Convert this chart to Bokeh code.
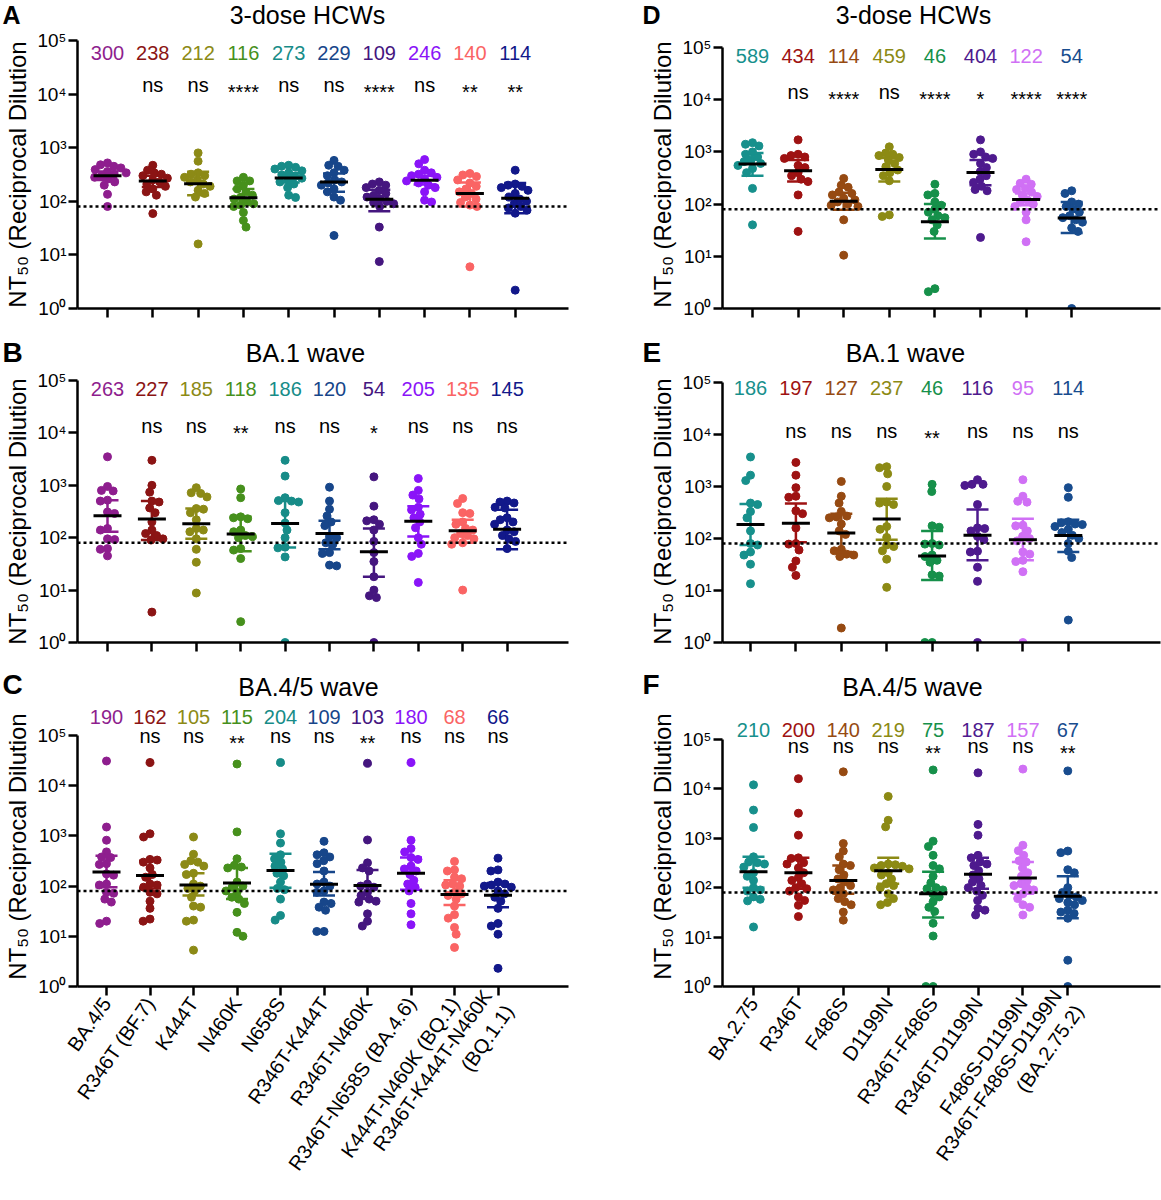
import math
from bokeh.plotting import figure
from bokeh.models import ColumnDataSource, FixedTicker, Span, LabelSet, Label, Range1d
from bokeh.layouts import column, row
from bokeh.embed import file_html
from bokeh.resources import INLINE
from bokeh.core.properties import value

FONT = "Liberation Sans"

# ---------------- data ----------------
variants_left = ["BA.4/5", "R346T (BF.7)", "K444T", "N460K", "N658S", "R346T-K444T",
                 "R346T-N460K", "R346T-N658S (BA.4.6)", "K444T-N460K (BQ.1)",
                 "R346T-K444T-N460K\n(BQ.1.1)"]
variants_right = ["BA.2.75", "R346T", "F486S", "D1199N", "R346T-F486S", "R346T-D1199N",
                  "F486S-D1199N", "R346T-F486S-D1199N\n(BA.2.75.2)"]
colors_left = ["#8E1E8E", "#8B1414", "#8C8A16", "#46901C", "#178C88", "#17468A",
               "#45167F", "#8A14F8", "#FA6464", "#12188A"]
colors_right = ["#17908C", "#9E1212", "#964A12", "#8C8A14", "#16904A", "#4E1A8E",
                "#D070F5", "#184C8E"]
y_tick_labels = {1: "10⁰", 10: "10¹", 100: "10²", 1000: "10³", 10000: "10⁴", 100000: "10⁵"}
limit_of_detection = 80

titers_A = [
    [520, 480, 450, 420, 390, 360, 340, 320, 300, 280, 260, 230, 200, 135, 80],
    [470, 380, 340, 320, 300, 270, 250, 230, 210, 190, 170, 150, 130, 59],
    [800, 560, 340, 320, 300, 280, 250, 230, 210, 190, 160, 140, 120, 16],
    [280, 240, 240, 200, 170, 150, 130, 120, 110, 100, 90, 85, 80, 62, 44, 33],
    [470, 450, 430, 400, 370, 340, 310, 290, 270, 250, 230, 210, 180, 130, 118],
    [580, 470, 450, 380, 340, 300, 250, 230, 220, 200, 170, 150, 120, 105, 23],
    [230, 210, 200, 180, 160, 140, 130, 120, 110, 100, 95, 90, 80, 33, 7.5],
    [600, 500, 380, 340, 320, 300, 280, 260, 240, 220, 200, 180, 150, 105, 97],
    [330, 310, 290, 250, 220, 190, 170, 150, 140, 120, 110, 95, 85, 80, 6],
    [380, 210, 200, 190, 180, 160, 140, 120, 110, 100, 90, 80, 75, 68, 60, 2.2],
]
gmt_A = [300, 238, 212, 116, 273, 229, 109, 246, 140, 114]
ci_lo_A = [250, 185, 130, 85, 225, 150, 65, 205, 80, 60]
ci_hi_A = [360, 300, 355, 170, 335, 330, 165, 300, 225, 220]
sig_A = ["", "ns", "ns", "****", "ns", "ns", "****", "ns", "**", "**"]

titers_B = [
    [3500, 950, 800, 780, 520, 500, 310, 290, 150, 140, 95, 92, 62, 60, 45],
    [3000, 1000, 740, 500, 480, 370, 300, 200, 140, 120, 110, 95, 90, 3.8],
    [900, 720, 700, 600, 360, 350, 300, 220, 150, 140, 130, 95, 60, 34, 8.8],
    [850, 580, 250, 240, 230, 140, 130, 110, 105, 100, 62, 58, 40, 2.5],
    [3000, 1500, 580, 510, 500, 480, 300, 190, 140, 100, 66, 64, 43, 1],
    [920, 500, 350, 260, 200, 170, 105, 100, 80, 75, 52, 50, 30, 29],
    [1450, 400, 220, 210, 180, 140, 85, 52, 35, 18, 10, 7.8, 7.2, 1],
    [1350, 800, 650, 550, 380, 340, 280, 240, 200, 155, 100, 75, 50, 44, 14],
    [560, 450, 300, 290, 200, 180, 150, 140, 120, 110, 100, 95, 80, 75, 10],
    [500, 480, 460, 380, 370, 240, 220, 200, 180, 140, 130, 110, 95, 85, 62],
]
gmt_B = [263, 227, 185, 118, 186, 120, 54, 205, 135, 145]
ci_lo_B = [130, 90, 95, 55, 65, 60, 18, 105, 80, 60]
ci_hi_B = [520, 500, 360, 250, 500, 210, 150, 400, 220, 340]
sig_B = ["", "ns", "ns", "**", "ns", "ns", "*", "ns", "ns", "ns"]

titers_C = [
    [31000, 1500, 820, 480, 380, 370, 280, 270, 175, 165, 110, 105, 75, 72, 55, 48, 20, 18],
    [29000, 1100, 950, 340, 330, 300, 230, 170, 150, 110, 105, 95, 75, 70, 50, 36, 22, 20],
    [950, 430, 320, 300, 270, 250, 180, 170, 110, 100, 90, 80, 60, 40, 38, 21, 20, 5.3],
    [27000, 1200, 350, 260, 240, 230, 120, 100, 95, 80, 75, 60, 55, 45, 30, 12, 10],
    [29000, 1100, 720, 420, 350, 300, 250, 220, 180, 160, 120, 90, 85, 55, 26, 21],
    [780, 460, 420, 380, 320, 280, 200, 120, 110, 100, 80, 75, 48, 45, 38, 33, 12.5, 12.5],
    [28000, 830, 290, 230, 200, 110, 100, 95, 75, 65, 55, 50, 48, 28, 20, 16],
    [29000, 820, 560, 480, 370, 340, 250, 220, 200, 170, 130, 110, 95, 80, 45, 28, 17],
    [310, 210, 200, 150, 140, 110, 105, 100, 75, 70, 65, 55, 40, 27, 23, 15, 11, 6],
    [360, 210, 200, 120, 110, 105, 100, 95, 80, 70, 60, 50, 36, 18, 16, 11, 2.3],
]
gmt_C = [190, 162, 105, 115, 204, 109, 103, 180, 68, 66]
ci_lo_C = [95, 90, 65, 55, 93, 65, 55, 85, 42, 38]
ci_hi_C = [400, 320, 180, 230, 440, 190, 210, 370, 130, 115]
sig_C = ["", "ns", "ns", "**", "ns", "ns", "**", "ns", "ns", "ns"]

titers_D = [
    [1500, 1400, 1300, 1000, 900, 800, 700, 650, 600, 550, 480, 400, 200, 40],
    [1700, 900, 850, 800, 750, 550, 500, 400, 350, 300, 270, 150, 30],
    [310, 230, 210, 170, 160, 150, 130, 120, 110, 100, 95, 90, 50, 10.5],
    [1250, 950, 900, 850, 780, 700, 600, 520, 450, 400, 350, 280, 62, 58],
    [240, 160, 150, 110, 95, 80, 70, 60, 55, 50, 40, 30, 2.4, 2.1],
    [1700, 1000, 900, 800, 750, 600, 500, 420, 350, 300, 260, 220, 190, 180, 23],
    [300, 250, 240, 200, 190, 170, 150, 140, 120, 110, 100, 90, 70, 50, 19],
    [180, 160, 110, 100, 90, 80, 70, 60, 55, 50, 45, 35, 30, 1],
]
gmt_D = [589, 434, 114, 459, 46, 404, 122, 54]
ci_lo_D = [350, 270, 78, 270, 22, 230, 95, 28]
ci_hi_D = [950, 700, 165, 760, 100, 700, 160, 110]
sig_D = ["", "ns", "****", "ns", "****", "*", "****", "****"]

titers_E = [
    [3700, 1650, 1300, 480, 450, 330, 250, 140, 80, 75, 55, 48, 32, 13.5],
    [2900, 1650, 950, 650, 620, 340, 300, 160, 80, 78, 60, 37, 28, 19.5],
    [1250, 650, 480, 330, 270, 260, 250, 190, 140, 120, 62, 58, 50, 48, 45, 1.9],
    [2400, 2300, 1750, 1000, 500, 480, 450, 170, 150, 105, 75, 70, 58, 40, 11.5],
    [1100, 800, 175, 165, 80, 78, 75, 48, 45, 38, 35, 20, 19, 1, 1],
    [1350, 1100, 1100, 1050, 450, 160, 155, 140, 110, 95, 57, 55, 28, 15, 1],
    [1350, 650, 520, 500, 180, 175, 140, 110, 100, 90, 55, 50, 38, 36, 23, 1],
    [950, 620, 210, 200, 190, 185, 170, 150, 130, 115, 100, 80, 57, 43, 2.7],
]
gmt_E = [186, 197, 127, 237, 46, 116, 95, 114]
ci_lo_E = [75, 85, 55, 95, 16, 38, 38, 55]
ci_hi_E = [460, 470, 300, 580, 140, 360, 240, 230]
sig_E = ["", "ns", "ns", "ns", "**", "ns", "ns", "ns"]

titers_F = [
    [12000, 3700, 1650, 420, 330, 320, 300, 260, 200, 170, 140, 100, 90, 85, 65, 58, 54, 16],
    [16000, 3200, 1150, 400, 390, 320, 300, 250, 200, 160, 140, 120, 100, 95, 85, 65, 55, 44, 26],
    [22000, 780, 550, 420, 300, 280, 230, 180, 150, 130, 110, 100, 90, 75, 60, 52, 45, 32, 22],
    [7000, 2300, 1700, 300, 290, 280, 270, 250, 240, 200, 180, 150, 120, 110, 100, 75, 60, 50, 45],
    [24000, 870, 680, 450, 280, 240, 170, 125, 100, 95, 90, 75, 65, 52, 40, 33, 19, 10.5, 1, 1],
    [21000, 1900, 1150, 450, 400, 330, 300, 280, 220, 180, 150, 130, 110, 100, 85, 70, 55, 38, 35, 28],
    [25000, 720, 560, 450, 350, 330, 250, 200, 170, 140, 120, 110, 100, 90, 75, 60, 45, 40, 28],
    [23000, 550, 510, 230, 200, 100, 80, 70, 65, 60, 55, 50, 45, 35, 32, 30, 24, 3.4, 1],
]
gmt_F = [210, 200, 140, 219, 75, 187, 157, 67]
ci_lo_F = [100, 95, 75, 120, 25, 95, 75, 24]
ci_hi_F = [420, 400, 280, 400, 210, 400, 330, 170]
sig_F = ["", "ns", "ns", "ns", "**", "ns", "ns", "**"]

panel_letters = [["A", "D"], ["B", "E"], ["C", "F"]]
panel_titles = [["3-dose HCWs", "3-dose HCWs"], ["BA.1 wave", "BA.1 wave"], ["BA.4/5 wave", "BA.4/5 wave"]]


# ---------------- helpers ----------------
def beeswarm(vals, ppd, d):
    ys = [math.log10(v) * ppd for v in vals]
    order = sorted(range(len(vals)), key=lambda i: -ys[i])
    placed = []
    offs = [0.0] * len(vals)
    side = -1
    for i in order:
        y = ys[i]
        iv = []
        for (px, py) in placed:
            ddy = abs(py - y)
            if ddy < d:
                w = math.sqrt(d * d - ddy * ddy)
                iv.append((px - w, px + w))
        cands = [0.0] + [a for a, b in iv] + [b for a, b in iv]
        cands.sort(key=lambda c: (round(abs(c), 2), 0 if c * side >= 0 else 1))
        for c in cands:
            if all(not (a + 1e-6 < c < b - 1e-6) for a, b in iv):
                offs[i] = c
                break
        if offs[i] != 0:
            side = -side
        placed.append((offs[i], y))
    return offs


def make_panel(cats, colors, titers, gmt, lo, hi, sig, g, show_labels):
    n = len(cats)
    sp = g["spacing"]
    fl = g["col"] + g["mbl"]
    fw = g["w"] - g["mbl"] - g["mbr"]
    ft = g["row"] + g["mbt"]
    fb = g["row"] + g["h"] - g["mbb"]
    ppd = (fb - g["axis_top"]) / 5.0            # pixels per decade
    top_exp = 5 + (g["axis_top"] - ft) / ppd
    x0 = -(g["first"] - fl) / sp
    x1 = x0 + fw / sp

    def dy(py):
        return 10 ** (top_exp - (py - ft) / ppd)

    p = figure(width=g["w"], height=g["h"],
               x_range=Range1d(x0, x1), y_range=Range1d(1, 10 ** top_exp),
               y_axis_type="log", output_backend="svg", toolbar_location=None,
               tools="", title=None,
               min_border_left=g["mbl"], min_border_right=g["mbr"],
               min_border_top=g["mbt"], min_border_bottom=g["mbb"])
    p.outline_line_color = None
    p.xgrid.visible = False
    p.ygrid.visible = False
    p.background_fill_color = "white"
    p.border_fill_color = "white"

    idx = list(range(n))
    xs, ys, cs = [], [], []
    for i, vals in enumerate(titers):
        offs = beeswarm(vals, ppd, 7.2)
        for v, o in zip(vals, offs):
            xs.append(i + o / sp)
            ys.append(v)
            cs.append(colors[i])
    p.scatter(x="x", y="y", fill_color="c", line_color="c", size=8,
              source=ColumnDataSource(dict(x=xs, y=ys, c=cs)))

    p.add_layout(Span(location=limit_of_detection, dimension="width", line_color="black",
                      line_width=2.5, line_dash="3 3"))

    cap = 11.0 / sp
    half = 14.0 / sp
    p.segment(x0=idx, x1=idx, y0=lo, y1=hi, line_color=colors, line_width=2.5)
    p.segment(x0=[i - cap for i in idx], x1=[i + cap for i in idx], y0=lo, y1=lo,
              line_color=colors, line_width=2.5)
    p.segment(x0=[i - cap for i in idx], x1=[i + cap for i in idx], y0=hi, y1=hi,
              line_color=colors, line_width=2.5)
    p.segment(x0=[i - half for i in idx], x1=[i + half for i in idx], y0=gmt, y1=gmt,
              line_color="black", line_width=3)

    nsrc = ColumnDataSource(dict(x=idx, y=[dy(g["num_y"])] * n,
                                 t=[str(v) for v in gmt], c=colors))
    p.add_layout(LabelSet(x="x", y="y", text="t", text_color="c", source=nsrc,
                          text_align="center", text_baseline="middle",
                          text_font=value(FONT), text_font_size="20px"))
    sx, sy, st = [], [], []
    for i, s in enumerate(sig):
        if not s:
            continue
        sx.append(i)
        st.append(s)
        sy.append(dy(g["sig_y"] + (5 if s.startswith("*") else -2)))
    p.add_layout(LabelSet(x="x", y="y", text="t", source=ColumnDataSource(dict(x=sx, y=sy, t=st)),
                          text_align="center", text_baseline="middle", text_color="black",
                          text_font=value(FONT), text_font_size="20px"))

    for ax in (p.xaxis[0], p.yaxis[0]):
        ax.axis_line_width = 2.5
        ax.axis_line_color = "black"
        ax.major_tick_line_width = 2.5
        ax.major_tick_line_color = "black"
        ax.major_tick_out = 9
        ax.major_tick_in = 0
        ax.minor_tick_line_color = None
        ax.major_label_text_font = FONT
        ax.major_label_text_color = "black"
    p.yaxis.bounds = (1, 100000)
    p.yaxis.ticker = FixedTicker(ticks=[1, 10, 100, 1000, 10000, 100000])
    p.yaxis.major_label_overrides = y_tick_labels
    p.yaxis.major_label_text_font_size = "19px"
    p.yaxis.major_label_standoff = 2
    p.yaxis.axis_label = "NT₅₀ (Reciprocal Dilution"
    p.yaxis.axis_label_text_font = FONT
    p.yaxis.axis_label_text_font_size = "24px"
    p.yaxis.axis_label_text_font_style = "normal"
    p.yaxis.axis_label_text_color = "black"
    p.yaxis.axis_label_standoff = 3
    p.xaxis.ticker = FixedTicker(ticks=idx)
    if show_labels:
        p.xaxis.major_label_overrides = {i: c for i, c in enumerate(cats)}
        p.xaxis.major_label_orientation = 0.96
        p.xaxis.major_label_text_font_size = "20px"
        p.xaxis.major_label_standoff = 4
    else:
        p.xaxis.major_label_overrides = {i: "" for i in idx}
        p.xaxis.major_label_text_font_size = "12px"
    return p


def make_header(top, height, letters, titles, letter_xs, title_xs, letter_y, title_y,
                letter_size, width=1161):
    h = figure(width=width, height=height, x_range=Range1d(0, width),
               y_range=Range1d(top + height, top), x_axis_type=None, y_axis_type=None,
               output_backend="svg", toolbar_location=None, tools="", title=None,
               min_border=0)
    h.outline_line_color = None
    h.grid.visible = False
    for lt, lx in zip(letters, letter_xs):
        h.add_layout(Label(x=lx, y=letter_y, text=lt, text_align="left", text_baseline="top",
                           text_font=FONT, text_font_size=letter_size, text_font_style="bold",
                           text_color="black"))
    for tt, tx in zip(titles, title_xs):
        h.add_layout(Label(x=tx, y=title_y, text=tt, text_align="center", text_baseline="top",
                           text_font=FONT, text_font_size="25px", text_color="black"))
    return h


# geometry (page pixels from the top-left corner); frames in one row share top & bottom
G = {
    "A": dict(col=0, row=29, w=580, h=307, mbl=77, mbr=12, mbt=11, mbb=28, axis_top=40,
              first=107, spacing=45.3, num_y=52, sig_y=86),
    "D": dict(col=580, row=29, w=581, h=307, mbl=142, mbr=1, mbt=11, mbb=28, axis_top=47,
              first=752, spacing=45.6, num_y=55, sig_y=93),
    "B": dict(col=0, row=368, w=580, h=293, mbl=77, mbr=12, mbt=12, mbb=19, axis_top=380,
              first=107, spacing=44.4, num_y=388, sig_y=427),
    "E": dict(col=580, row=368, w=581, h=293, mbl=142, mbr=1, mbt=12, mbb=19, axis_top=382,
              first=750, spacing=45.4, num_y=387, sig_y=432),
    "C": dict(col=0, row=702, w=580, h=494, mbl=77, mbr=12, mbt=4, mbb=200, axis_top=736,
              first=106, spacing=43.5, num_y=717, sig_y=739),
    "F": dict(col=580, row=702, w=581, h=494, mbl=142, mbr=1, mbt=4, mbb=200, axis_top=740,
              first=753, spacing=44.9, num_y=730, sig_y=749),
}

pA = make_panel(variants_left, colors_left, titers_A, gmt_A, ci_lo_A, ci_hi_A, sig_A, G["A"], False)
pB = make_panel(variants_left, colors_left, titers_B, gmt_B, ci_lo_B, ci_hi_B, sig_B, G["B"], False)
pC = make_panel(variants_left, colors_left, titers_C, gmt_C, ci_lo_C, ci_hi_C, sig_C, G["C"], True)
pD = make_panel(variants_right, colors_right, titers_D, gmt_D, ci_lo_D, ci_hi_D, sig_D, G["D"], False)
pE = make_panel(variants_right, colors_right, titers_E, gmt_E, ci_lo_E, ci_hi_E, sig_E, G["E"], False)
pF = make_panel(variants_right, colors_right, titers_F, gmt_F, ci_lo_F, ci_hi_F, sig_F, G["F"], True)

h1 = make_header(0, 29, panel_letters[0], panel_titles[0], [2, 642], [307, 913], 0, 0, "25px")
h2 = make_header(336, 32, panel_letters[1], panel_titles[1], [2, 642], [305, 905], 336, 338, "28px")
h3 = make_header(661, 41, panel_letters[2], panel_titles[2], [2, 642], [308, 912], 668, 672, "28px")

layout = column(h1, row(pA, pD), h2, row(pB, pE), h3, row(pC, pF))
open("out.html", "w").write(file_html(layout, INLINE))
